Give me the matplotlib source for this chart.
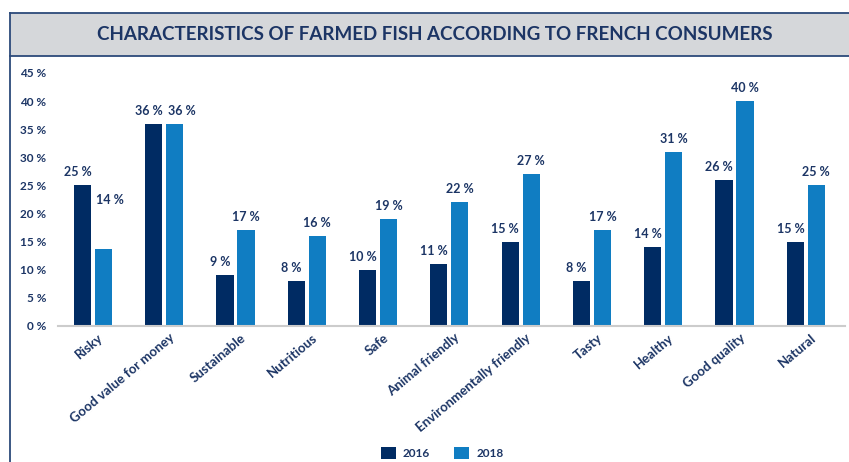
import matplotlib
matplotlib.use("Agg")
import matplotlib.pyplot as plt
from matplotlib.patches import Rectangle
from matplotlib.lines import Line2D
import matplotlib.transforms as mtransforms
import numpy as np

categories = ["Risky", "Good value for money", "Sustainable", "Nutritious", "Safe",
              "Animal friendly", "Environmentally friendly", "Tasty", "Healthy",
              "Good quality", "Natural"]
values_2016 = [25, 36, 9, 8, 10, 11, 15, 8, 14, 26, 15]
values_2018 = [13.7, 36, 17, 16, 19, 22, 27, 17, 31, 40, 25]
series_names = ["2016", "2018"]
yticks = [0, 5, 10, 15, 20, 25, 30, 35, 40, 45]
title = "CHARACTERISTICS OF FARMED FISH ACCORDING TO FRENCH CONSUMERS"

C16 = "#002b63"
C18 = "#107dc2"
TXT = "#1c3565"
BORDER = "#2c4a7a"

plt.rcParams['font.family'] = ['Lato', 'DejaVu Sans']

W, H = 849, 462
fig = plt.figure(figsize=(W/100, H/100), dpi=100)

# title band
fig.patches.append(Rectangle((10/W, 1-56/H), 1-10/W, 43/H, transform=fig.transFigure,
                             facecolor="#d5d7da", edgecolor="none", zorder=0))
fig.lines.append(Line2D([10/W, 1], [1-13/H, 1-13/H], transform=fig.transFigure, color=BORDER, lw=1.3))
fig.lines.append(Line2D([10/W, 1], [1-56/H, 1-56/H], transform=fig.transFigure, color=BORDER, lw=1.3))
fig.lines.append(Line2D([10/W, 10/W], [1-13/H, 0], transform=fig.transFigure, color=BORDER, lw=1.3))
fig.text(435/W, 1-35/H, title, ha="center", va="center", fontsize=13.5, fontweight="bold",
         color=TXT)

ax = fig.add_axes([58/W, 1-326/H, (845-58)/W, (326-73)/H])
x = np.arange(len(categories))
bw = 0.24
off = 0.147
b1 = ax.bar(x - off, values_2016, bw, color=C16, label=series_names[0], zorder=2)
b2 = ax.bar(x + off, values_2018, bw, color=C18, label=series_names[1], zorder=2)

ax.set_xlim(-0.49, 10.55)
ax.set_ylim(0, 45)
ax.set_yticks(yticks)
ax.set_yticklabels([f"{t} %" for t in yticks], fontsize=8.5, fontweight="bold", color=TXT)
ax.tick_params(axis="y", length=0, pad=8.5)
ax.set_xticks(x)
ax.set_xticklabels(categories, rotation=40, ha="right", rotation_mode="anchor",
                   fontsize=9.5, fontweight="bold", color=TXT)
ax.tick_params(axis="x", length=0, pad=4)
for s in ["top", "right", "left"]:
    ax.spines[s].set_visible(False)
ax.spines["bottom"].set_color("#cccccc")
ax.spines["bottom"].set_linewidth(1.5)

shift = mtransforms.ScaledTranslation(5/100, 0, fig.dpi_scale_trans)
for lbl in ax.get_xticklabels():
    lbl.set_transform(lbl.get_transform() + shift)

for i, (v1, v2) in enumerate(zip(values_2016, values_2018)):
    ax.annotate(f"{round(v1)} %", (x[i] - off, v1), xytext=(-3.5, 5), textcoords="offset points",
                ha="center", va="bottom", fontsize=9, fontweight="bold", color=TXT)
    dy = 31 if i == 0 else 5
    dx = 5 if i in (0, 1) else 0
    ax.annotate(f"{round(v2)} %", (x[i] + off, v2), xytext=(dx, dy), textcoords="offset points",
                ha="center", va="bottom", fontsize=9, fontweight="bold", color=TXT)

leg = fig.legend(handles=[b1, b2], labels=series_names, loc="center", bbox_to_anchor=(442/W, 1-453/H),
                 ncol=2, frameon=False, fontsize=8.5, handlelength=1.3, handleheight=1.3,
                 columnspacing=2.0, handletextpad=0.6)
for t in leg.get_texts():
    t.set_color(TXT)
    t.set_fontweight("bold")

fig.savefig("out.png", dpi=100)
